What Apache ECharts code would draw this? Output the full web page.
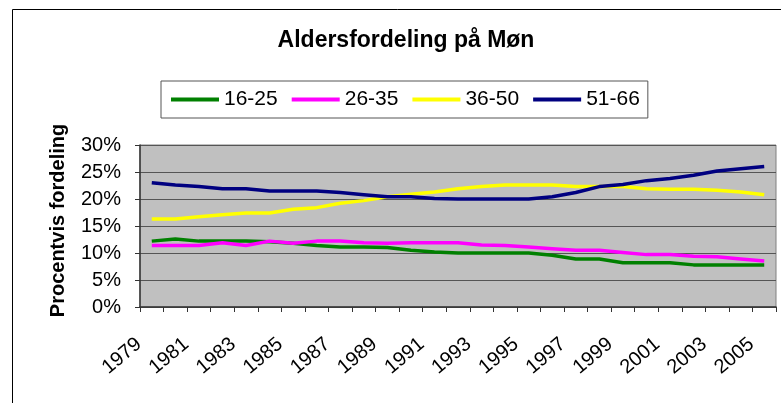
<!DOCTYPE html>
<html>
<head>
<meta charset="utf-8">
<script src="https://cdn.jsdelivr.net/npm/echarts@6/dist/echarts.min.js"></script>
<style>
html,body{margin:0;padding:0;background:#fff;}
#c{width:781px;height:403px;}
</style>
</head>
<body>
<div id="c"></div>
<script>
const years = ['1979','1980','1981','1982','1983','1984','1985','1986','1987','1988','1989','1990','1991','1992','1993','1994','1995','1996','1997','1998','1999','2000','2001','2002','2003','2004','2005'];
const seriesNames = ['16-25','26-35','36-50','51-66'];
const age16_25 = [12.2,12.6,12.2,12.2,12.2,12.1,11.8,11.4,11.1,11.1,11.0,10.5,10.2,10.0,10.0,10.0,10.0,9.6,8.9,8.9,8.2,8.2,8.2,7.8,7.8,7.8,7.8];
const age26_35 = [11.4,11.4,11.4,11.9,11.4,12.2,11.8,12.2,12.2,11.9,11.8,11.9,11.9,11.9,11.5,11.4,11.1,10.8,10.5,10.5,10.1,9.7,9.7,9.4,9.3,8.9,8.5];
const age36_50 = [16.3,16.3,16.7,17.1,17.4,17.4,18.1,18.4,19.2,19.7,20.4,20.9,21.3,21.9,22.3,22.6,22.6,22.6,22.3,22.3,22.3,21.9,21.8,21.8,21.6,21.3,20.8];
const age51_66 = [23.0,22.6,22.3,21.9,21.9,21.5,21.5,21.5,21.2,20.8,20.4,20.4,20.1,20.0,20.0,20.0,20.0,20.4,21.2,22.3,22.7,23.4,23.8,24.4,25.2,25.6,26.0];
const colors = ['#008000','#FF00FF','#FFFF00','#000080'];
const dataSets = [age16_25, age26_35, age36_50, age51_66];

const FONT = 'Liberation Sans, Arial, sans-serif';
const chart = echarts.init(document.getElementById('c'), null, {renderer:'canvas'});
chart.setOption({
  animation:false,
  backgroundColor:'#fff',
  textStyle:{fontFamily:FONT},
  graphic:[{
    type:'rect', z:-10, silent:true,
    shape:{x:12.5,y:9.5,width:800,height:420},
    style:{fill:'#fff',stroke:'#000',lineWidth:1}
  }],
  title:{
    text:'Aldersfordeling på Møn',
    left:401, textAlign:'center', top:24,
    textStyle:{fontFamily:FONT,fontSize:23,fontWeight:'bold',color:'#000'}
  },
  legend:{
    left:161, top:81,
    padding:[8,8,8,10],
    borderColor:'#555', borderWidth:1,
    itemWidth:48, itemHeight:4, itemGap:14,
    icon:'rect',
    textStyle:{fontFamily:FONT,fontSize:21,color:'#000'},
    data:seriesNames
  },
  grid:{
    left:140, right:5, top:145, bottom:96,
    show:true, backgroundColor:'#C0C0C0', borderColor:'#808080', borderWidth:1,
    containLabel:false
  },
  xAxis:{
    type:'category', data:years, boundaryGap:true,
    axisLine:{lineStyle:{color:'#333',width:1.5}},
    axisTick:{show:true,length:5,interval:0,lineStyle:{color:'#333'}},
    axisLabel:{interval:1,rotate:40,fontSize:20,color:'#000',margin:24,fontFamily:FONT,
      formatter:function(v){return v + '\u00a0\u00a0\u00a0';}},
    splitLine:{show:false}
  },
  yAxis:{
    type:'value', min:0, max:30, interval:5,
    name:'Procentvis fordeling', nameLocation:'middle', nameGap:72, nameRotate:90,
    nameTextStyle:{fontFamily:FONT,fontSize:20,fontWeight:'bold',color:'#000',padding:[0,0,0,11]},
    axisLine:{show:true,lineStyle:{color:'#333',width:1.5}},
    axisTick:{show:true,length:5,lineStyle:{color:'#333'}},
    axisLabel:{formatter:'{value}%',fontSize:20,color:'#000',margin:19,fontFamily:FONT},
    splitLine:{show:true,lineStyle:{color:'#555',width:1.2}}
  },
  series: seriesNames.map((n,i)=>({
    name:n, type:'line', data:dataSets[i],
    symbol:'none', smooth:false,
    lineStyle:{color:colors[i],width:3.5},
    itemStyle:{color:colors[i]}
  }))
});
</script>
</body>
</html>
